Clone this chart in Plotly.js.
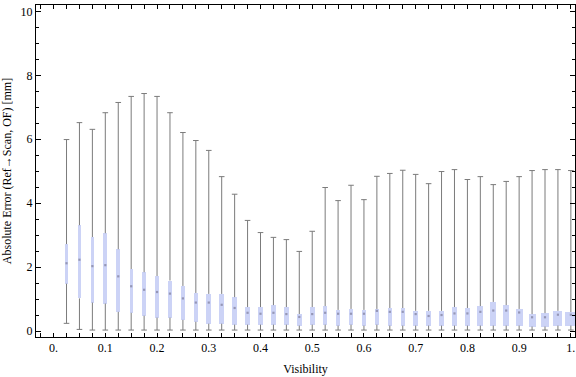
<!DOCTYPE html>
<html>
<head>
<meta charset="utf-8">
<script src="https://cdn.plot.ly/plotly-3.0.1.min.js"></script>
<style>html,body{margin:0;padding:0;background:#fff;}#chart{width:576px;height:377px;}</style>
</head>
<body>
<div id="chart"></div>
<script>
// Visibility bins (box centres)
const visibility = [0.025,0.05,0.075,0.1,0.125,0.15,0.175,0.2,0.225,0.25,0.275,0.3,0.325,0.35,0.375,0.4,0.425,0.45,0.475,0.5,
  0.525,0.55,0.575,0.6,0.625,0.65,0.675,0.7,0.725,0.75,0.775,0.8,0.825,0.85,0.875,0.9,0.925,0.95,0.975,1.0];
// Box-whisker statistics (absolute error, mm)
const upperWhisker = [5.99,6.52,6.31,6.83,7.15,7.34,7.43,7.34,6.83,6.21,5.96,5.65,4.83,4.28,3.46,3.08,2.93,2.86,2.49,3.12,
  4.49,4.08,4.56,4.11,4.84,4.93,5.03,4.90,4.61,4.99,5.05,4.74,4.83,4.58,4.68,4.83,5.02,5.05,5.05,5.02];
const q3 = [2.72,3.31,2.94,3.06,2.56,1.94,1.84,1.72,1.58,1.41,1.19,1.16,1.16,1.06,0.75,0.75,0.81,0.75,0.53,0.75,
  0.78,0.66,0.69,0.66,0.69,0.72,0.72,0.63,0.63,0.63,0.75,0.72,0.78,0.91,0.81,0.69,0.53,0.56,0.63,0.59];
const median = [2.12,2.23,2.03,2.06,1.71,1.40,1.29,1.22,1.17,1.02,0.89,0.89,0.82,0.72,0.57,0.54,0.57,0.53,0.44,0.53,
  0.57,0.54,0.54,0.54,0.63,0.60,0.60,0.53,0.47,0.50,0.55,0.55,0.60,0.64,0.64,0.58,0.43,0.43,0.51,0.51];
const q1 = [1.48,1.02,0.89,0.86,0.60,0.57,0.48,0.42,0.42,0.35,0.29,0.23,0.23,0.20,0.20,0.20,0.20,0.20,0.17,0.20,
  0.20,0.17,0.20,0.17,0.20,0.17,0.17,0.17,0.17,0.17,0.17,0.17,0.17,0.17,0.17,0.17,0.14,0.14,0.17,0.17];
const lowerWhisker = [0.24,0.05,0.03,0.03,0.03,0.03,0.03,0.03,0.03,0.03,0.03,0.03,0.03,0.03,0.03,0.03,0.03,0.03,0.03,0.03,
  0.03,0.03,0.03,0.03,0.03,0.03,0.03,0.03,0.03,0.03,0.03,0.03,0.03,0.03,0.03,0.03,0.03,0.03,0.03,0.03];
// relative sample weight of each bin (drives box width)
const sampleWeight = [3.3,3.3,3.7,3.7,3.7,3.3,3.3,4,4,4.3,4.3,4.7,5.5,5,5,5,5,5,5,5,
  4,4,4,4,4,4,4.5,5,5,5,5,5,6,6,6,7,7,8,9,12];
const xTickVals = [0,0.1,0.2,0.3,0.4,0.5,0.6,0.7,0.8,0.9,1.0];
const xTickText = ["0.","0.1","0.2","0.3","0.4","0.5","0.6","0.7","0.8","0.9","1."];
const yTickVals = [0,2,4,6,8,10];

const pxPerUnit = 517.3;
const whiskerColor = '#7b7b7b';

const wx = [], wy = [];
visibility.forEach((v,i)=>{
  wx.push(v,v,null,v,v,null);
  wy.push(q3[i],upperWhisker[i],null,lowerWhisker[i],q1[i],null);
});

const traces = [
  {type:'scatter', mode:'lines', x:wx, y:wy, line:{color:whiskerColor,width:1}, hoverinfo:'skip', showlegend:false},
  {type:'scatter', mode:'markers', x:visibility.concat(visibility), y:upperWhisker.concat(lowerWhisker),
   marker:{symbol:'line-ew', size:4, line:{color:whiskerColor,width:1}}, showlegend:false},
  {type:'bar', x:visibility, y:q3.map((v,i)=>v-q1[i]), base:q1, width:sampleWeight.map(w=>w/pxPerUnit),
   marker:{color:'rgb(204,211,246)', line:{width:0}}, showlegend:false},
  {type:'scatter', mode:'markers', x:visibility, y:median,
   marker:{symbol:'square', size:2.2, color:'rgba(135,135,165,0.8)'}, showlegend:false}
];

const font = {family:'"Liberation Serif", "Times New Roman", serif', size:12, color:'#000'};
const layout = {
  width:576, height:377,
  margin:{l:36, r:1, t:5, b:40},
  paper_bgcolor:'#fff', plot_bgcolor:'#fff',
  font:font,
  xaxis:{range:[-0.034,1.008], tickmode:'array', tickvals:xTickVals, ticktext:xTickText,
    ticks:'inside', ticklen:4, tickcolor:'#000', tickwidth:1,
    minor:{tick0:0, dtick:0.025, ticks:'inside', ticklen:4, tickcolor:'#000', tickwidth:1, showgrid:false},
    showline:true, linecolor:'#000', linewidth:1, mirror:'allticks', showgrid:false, zeroline:false,
    tickfont:font, title:{text:'Visibility', font:font, standoff:10}},
  yaxis:{range:[-0.1875,10.2], tickmode:'array', tickvals:yTickVals,
    ticks:'inside', ticklen:5, tickcolor:'#000', tickwidth:1,
    minor:{tick0:0, dtick:0.5, ticks:'inside', ticklen:3, tickcolor:'#000', tickwidth:1, showgrid:false},
    showline:true, linecolor:'#000', linewidth:1, mirror:'allticks', showgrid:false, zeroline:false,
    tickfont:font, title:{text:'Absolute Error (Ref\u2192Scan, OF) [mm]', font:font, standoff:8}},
  bargap:0
};
Plotly.newPlot('chart', traces, layout, {displayModeBar:false, staticPlot:true});
</script>
</body>
</html>
